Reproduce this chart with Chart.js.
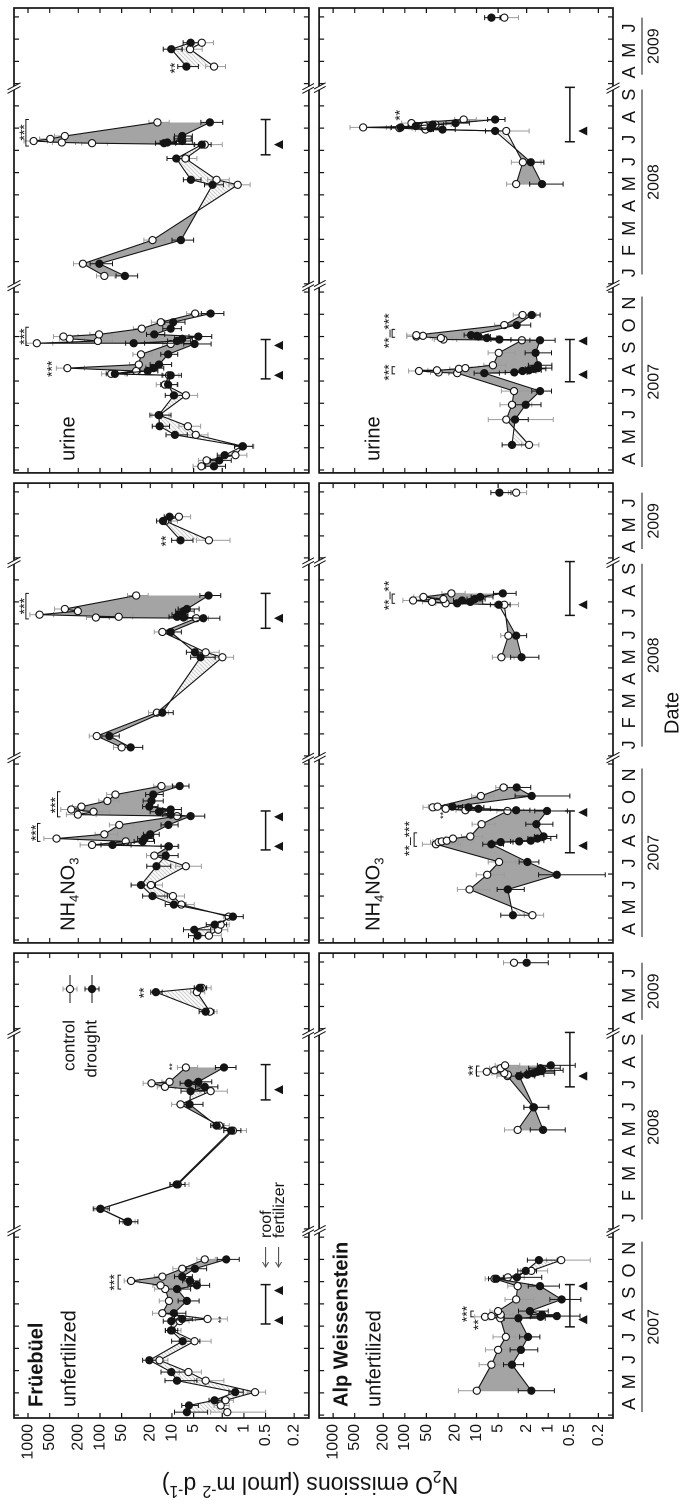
<!DOCTYPE html>
<html>
<head>
<meta charset="utf-8">
<script src="https://cdn.jsdelivr.net/npm/chart.js@4/dist/chart.umd.min.js"></script>
<style>
html, body { margin: 0; padding: 0; background: #fff; overflow: hidden; width: 683px; height: 1504px; }
#fig { position: absolute; left: 0; top: 0; width: 1504px; height: 683px; transform-origin: 0 0; transform: translate(0, 1504px) rotate(-90deg); }
#fig canvas { position: absolute; }
#ytitle { position: absolute; left: -229px; top: 295px; width: 500px; height: 30px; line-height: 30px; text-align: center;
  font: 23px 'Liberation Sans', Arial, sans-serif; color: #111; white-space: nowrap; transform: rotate(-90deg); }
#ytitle sub, #ytitle sup { font-size: 0.68em; line-height: 0; }
</style>
</head>
<body>
<div id="fig">
  <div id="ytitle">N<sub>2</sub>O emissions (µmol m<sup>-2</sup> d<sup>-1</sup>)</div>
</div>
<script>
// time axis: three year segments with breaks between them
const segYears = [2007, 2008, 2009];
const segFirstMonth = [4, 1, 4];
const segMonthLetters = [['A','M','J','J','A','S','O','N'], ['J','F','M','A','M','J','J','A','S'], ['A','M','J']];
const segStartPos = [0.13, 8.5, 17.5];
const axisMaxPos = 20.9;
const breakPos = [8.42, 17.3];
const yearLineSpans = [['2007-04-05', '2007-11-25'], ['2008-01-14', '2008-09-23'], ['2009-04-13', '2009-06-30']];

const yTickValues = [1000, 500, 200, 100, 50, 20, 10, 5, 2, 1, 0.5, 0.2];
const yTickLabels = ['1000', '500', '200', '100', '50', '20', '10', '5', '2', '1', '0.5', '0.2'];
const yMin = 0.125, yMax = 1567;

const siteNames = ['Früebüel', 'Alp Weissenstein'];
const treatmentNames = ['unfertilized', 'NH4NO3', 'urine'];
const legendLabels = ['control', 'drought'];

// roof period and fertilizer dates per site
const fruRoof = [['2007-08-04', '2007-09-27'], ['2008-06-25', '2008-08-13']];
const fruFert = ['2007-08-09', '2007-09-19', '2008-07-09'];
const alpRoof = [['2007-07-31', '2007-09-27'], ['2008-07-13', '2008-09-26']];
const alpFert = ['2007-08-10', '2007-09-25', '2008-07-28'];

// Früebüel, unfertilized
const fruUnfDates = ['2007-04-05','2007-04-14','2007-04-21','2007-05-02','2007-05-18','2007-05-30','2007-06-15','2007-07-11','2007-07-26','2007-08-08','2007-08-11','2007-08-19','2007-09-05','2007-09-21','2007-09-26','2007-10-02','2007-10-08','2007-10-19','2007-11-01',
  '2008-01-11','2008-01-29','2008-03-01','2008-05-14','2008-05-21','2008-06-19','2008-07-07','2008-07-13','2008-07-18','2008-07-20','2008-08-09',
  '2009-04-24','2009-05-21','2009-05-27'];
const fruUnfControl = [1.7, 2.1, 1.8, 0.7, 3.4, 5.9, 14.9, 4.85, 10, 7.8, 3.2, 13.6, 11, 12.4, 14.4, 37, 13.6, 7.2, 3.5, 40.5, 98, 8.3, 1.42, 2.2, 7.6, 2.9, 12.5, 19.2, 10.8, 6.4, 2.97, 4.5, 3.85];
const fruUnfDrought = [6.2, 5.8, 2.56, 1.32, 8.5, 10.2, 20.6, 7.1, 10.3, 10.2, 7.2, 9.4, 6.2, 8.5, 4.5, 5.6, 7.2, 4.8, 1.76, 41.7, 99, 8.6, 1.5, 2.4, 5.7, 5.5, 3.5, 5.9, 4.3, 1.89, 3.4, 16.7, 4.1];
const fruUnfControlSE = [1.2, 0.5, 0.4, 0.2, 1.5, 2.0, 3.5, 2.0, 2.5, 2.0, 1.5, 5.0, 4.0, 5.0, 4.0, 9.0, 4.0, 2.5, 1.0, 8, 20, 2.5, 0.5, 0.6, 2.5, 1.2, 3.5, 6, 3, 2, 0.6, 1.0, 1.0];
const fruUnfDroughtSE = [3.0, 1.5, 0.5, 0.3, 4.0, 4.0, 5.0, 3.0, 2.0, 3.0, 2.0, 3.0, 2.0, 3.0, 1.5, 1.5, 2.0, 1.5, 0.6, 12, 25, 2, 0.4, 0.5, 2, 2, 1.2, 1.8, 1.5, 0.6, 0.8, 3, 0.8];
const fruUnfStars = [['2007-09-30', 70, '***', 14], ['2007-08-10', 2.2, '**', 9], ['2008-08-10', 10.5, '**', 9], ['2009-05-20', 27, '**', 14]];
const fruUnfBrackets = [['2007-09-21', '2007-10-10', 56]];

// Früebüel, NH4NO3
const fruNH4Dates = ['2007-04-07','2007-04-15','2007-04-22','2007-05-03','2007-05-20','2007-06-01','2007-06-16','2007-07-12','2007-07-27','2007-08-09','2007-08-11','2007-08-16','2007-08-20','2007-08-26','2007-09-08','2007-09-20','2007-09-22','2007-09-26','2007-09-29','2007-10-03','2007-10-11','2007-10-20','2007-11-01',
  '2008-01-13','2008-01-29','2008-02-29','2008-05-16','2008-05-23','2008-06-20','2008-07-09','2008-07-10','2008-07-11','2008-07-14','2008-07-19','2008-07-22','2008-08-10',
  '2009-04-25','2009-05-22','2009-05-28'];
const fruNH4Control = [3.06, 2.28, 2.1, 1.63, 7.4, 9.7, 19.6, 6.4, 17.6, 11, 129, 43.9, 402, 87, 54, 8.5, 203, 123, 251, 181, 79, 61, 14, 50, 111, 16.2, 1.99, 3.4, 13.6, 4.6, 114, 55, 692, 203, 308, 31.4, 3.06, 12.4, 8.0];
const fruNH4Drought = [4.4, 4.9, 2.54, 1.42, 9.4, 18.6, 26.9, 16.4, 12.2, 11.2, 67, 25.5, 24, 20, 11.2, 5.5, 10.4, 15.1, 10.4, 20.6, 19.2, 18.2, 7.8, 37.5, 74, 13.6, 4.0, 4.8, 10.4, 3.66, 6.9, 8.5, 8.0, 6.9, 6.2, 3.1, 7.6, 13.3, 10.8];
const fruNH4ControlSE = [1.0, 0.6, 0.5, 0.3, 2.5, 3.0, 6.0, 2.5, 5.0, 3.0, 60, 15, 200, 30, 20, 3, 90, 50, 100, 60, 25, 20, 4, 15, 30, 5, 0.6, 1.2, 4, 1.5, 40, 20, 250, 80, 120, 10, 1.5, 4, 2.5];
const fruNH4DroughtSE = [1.5, 2.0, 0.8, 0.4, 3.0, 7.0, 10, 6.0, 4.0, 3.0, 30, 8, 6, 5, 3, 2.0, 3, 5, 3, 5, 6, 5, 2, 12, 20, 4, 1.5, 1.5, 3, 1.5, 2, 2.5, 2, 2, 2, 1, 2.5, 3, 2];
const fruNH4Stars = [['2007-08-28', 860, '***', 14], ['2007-10-05', 460, '***', 14], ['2008-07-26', 1250, '***', 14], ['2009-04-24', 13.5, '**', 14]];
const fruNH4Brackets = [['2007-08-16', '2007-09-10', 740], ['2007-09-19', '2007-10-24', 390], ['2008-07-08', '2008-08-13', 1070]];

// Früebüel, urine
const fruUriDates = ['2007-04-06','2007-04-14','2007-04-21','2007-05-03','2007-05-19','2007-05-31','2007-06-15','2007-07-12','2007-07-27','2007-08-09','2007-08-11','2007-08-15','2007-08-19','2007-08-24','2007-09-07','2007-09-21','2007-09-22','2007-09-25','2007-09-28','2007-10-01','2007-10-04','2007-10-12','2007-10-21','2007-11-02',
  '2008-01-12','2008-01-29','2008-02-29','2008-05-15','2008-05-22','2008-06-20','2008-07-09','2008-07-11','2008-07-12','2008-07-14','2008-07-17','2008-07-21','2008-08-09',
  '2009-04-24','2009-05-18','2009-05-27'];
const fruUriControl = [3.9, 3.3, 1.31, 1.03, 4.66, 6.0, 15, 6.4, 12.5, 11, 70, 31.4, 284, 28.9, 26.9, 10.4, 754, 107, 264, 322, 103, 26.3, 14.3, 4.76, 87, 173, 18.6, 1.22, 2.4, 6.5, 3.5, 129, 339, 836, 490, 308, 15.9, 2.6, 5.6, 3.85];
const fruUriDrought = [2.6, 2.2, 1.85, 1.05, 9.1, 14.8, 15.3, 9.4, 11.3, 10.4, 62, 21.7, 18, 15.1, 11.3, 4.85, 34, 8.5, 7.2, 4.3, 17.6, 10.4, 9.6, 2.9, 45, 102, 7.5, 2.73, 5.45, 8.7, 3.85, 12.9, 11.6, 7.2, 7.4, 7.2, 2.97, 6.3, 10.2, 5.5];
const fruUriControlSE = [1.2, 1.0, 0.4, 0.3, 1.5, 2.0, 4.0, 2.0, 4.0, 3.0, 25, 10, 120, 10, 8, 3, 300, 40, 100, 120, 35, 8, 5, 1.5, 25, 60, 6, 0.4, 0.8, 2, 1.5, 50, 120, 300, 200, 120, 5, 0.8, 1.8, 1.2];
const fruUriDroughtSE = [0.8, 0.7, 0.5, 0.3, 3.0, 4.0, 5.0, 3.0, 3.0, 3.0, 20, 6, 5, 5, 3, 2, 10, 3, 2, 1.5, 5, 3, 3, 1, 15, 35, 2.5, 0.8, 1.5, 3, 1, 4, 3, 2, 2, 2, 1, 2, 3, 1.5];
const fruUriStars = [['2007-10-01', 1250, '***', 14], ['2007-08-18', 520, '***', 14], ['2008-07-26', 1250, '***', 14], ['2009-04-22', 10, '**', 14]];
const fruUriBrackets = [['2007-09-19', '2007-10-14', 1070], ['2008-07-07', '2008-08-13', 1070]];

// Alp Weissenstein, unfertilized
const alpUnfDates = ['2007-05-04','2007-06-09','2007-06-29','2007-07-17','2007-08-12','2007-08-14','2007-08-15','2007-08-17','2007-08-22','2007-09-07','2007-09-25','2007-10-05','2007-10-07','2007-10-16','2007-10-31',
  '2008-05-15','2008-06-15','2008-07-28','2008-07-30','2008-08-01','2008-08-03','2008-08-05','2008-08-08','2008-08-12',
  '2009-06-30'];
const alpUnfControl = [9.9, 6.2, 5.0, 3.9, 4.66, 7.6, 6.2, 4.6, 5.0, 2.8, 2.67, 5.6, 3.66, 1.72, 0.66, 2.67, 1.61, 3.7, 3.66, 4.1, 7.2, 5.6, 4.6, 4.0, 3.0];
const alpUnfDrought = [1.72, 3.2, 2.4, 1.91, 2.6, 1.28, 0.76, 1.22, 1.8, 0.65, 1.3, 5.3, 2.73, 2.06, 1.35, 1.18, 1.58, 2.54, 1.95, 1.61, 1.42, 1.22, 1.28, 0.92, 2.0];
const alpUnfControlSE = [8, 3, 2.5, 2, 2, 3, 2, 1.5, 1.5, 1.2, 1, 2, 1.5, 0.7, 0.4, 1.4, 0.6, 1.5, 1.5, 2, 3, 2, 2, 1.5, 1.2];
const alpUnfDroughtSE = [0.9, 1, 1, 0.6, 1.5, 0.5, 0.4, 0.5, 0.8, 0.3, 0.6, 1.5, 1.5, 0.6, 0.6, 0.6, 0.6, 1, 0.8, 0.8, 0.6, 0.6, 0.6, 0.5, 1.0];
const alpUnfStars = [['2007-08-18', 15, '***', 14], ['2007-08-03', 10.5, '**', 14], ['2008-08-05', 12.4, '**', 14]];
const alpUnfBrackets = [['2007-08-14', '2007-08-22', 12], ['2008-07-28', '2008-08-11', 10]];

// Alp Weissenstein, NH4NO3
const alpNH4Dates = ['2007-05-05','2007-06-10','2007-06-30','2007-07-18','2007-08-12','2007-08-15','2007-08-16','2007-08-17','2007-08-20','2007-08-23','2007-09-09','2007-09-27','2007-09-28','2007-09-30','2007-10-02','2007-10-03','2007-10-18','2007-10-30',
  '2008-05-16','2008-06-15','2008-07-28','2008-07-30','2008-08-01','2008-08-03','2008-08-05','2008-08-08','2008-08-13',
  '2009-06-30'];
const alpNH4Control = [1.66, 12.5, 7.1, 4.85, 36.8, 33.8, 30.5, 26, 21.3, 12.2, 8.5, 3.7, 14.3, 26.9, 40.8, 34.9, 8.7, 4.2, 4.5, 3.6, 4.1, 26.9, 41.7, 76.6, 28.9, 55, 22.4, 2.8];
const alpNH4Drought = [3.1, 3.66, 0.76, 1.95, 6.2, 4.6, 2.54, 1.75, 1.42, 1.16, 1.46, 1.04, 2.8, 9.4, 12.9, 21.7, 1.7, 2.75, 2.35, 2.8, 4.9, 18.6, 12.2, 15.9, 10.6, 8.9, 4.3, 4.8];
const alpNH4ControlSE = [0.5, 6, 3, 2, 20, 10, 10, 8, 6, 4, 3, 1.5, 5, 10, 15, 12, 3, 1.2, 1.5, 1.0, 1.5, 10, 15, 30, 10, 20, 8, 0.8];
const alpNH4DroughtSE = [1.5, 1.5, 0.6, 0.6, 2, 1.5, 0.8, 0.6, 0.5, 0.4, 0.6, 0.5, 1, 3, 5, 6, 1.2, 1, 1.0, 0.8, 1.5, 6, 4, 5, 3, 3, 1.5, 1.5];
const alpNH4Stars = [['2007-08-20', 96, '**–***', 14], ['2007-09-21', 31, '**', 9], ['2008-08-10', 186, '**–**', 14]];
const alpNH4Brackets = [['2007-08-09', '2007-08-28', 74], ['2008-07-30', '2008-08-12', 150]];

// Alp Weissenstein, urine
const alpUriDates = ['2007-05-05','2007-06-09','2007-06-29','2007-07-18','2007-08-12','2007-08-13','2007-08-15','2007-08-16','2007-08-18','2007-08-19','2007-08-23','2007-09-09','2007-09-26','2007-09-27','2007-09-29','2007-10-01','2007-10-02','2007-10-03','2007-10-17','2007-10-31',
  '2008-05-16','2008-06-15','2008-07-28','2008-07-30','2008-08-01','2008-08-02','2008-08-04','2008-08-06','2008-08-08','2008-08-13',
  '2009-06-30'];
const alpUriControl = [1.85, 3.85, 3.2, 3.0, 18.6, 33.8, 63.4, 35.6, 17.6, 14.3, 5.9, 4.9, 2.33, 28.9, 31.4, 69, 55.8, 69, 4.1, 2.28, 2.8, 2.26, 3.85, 51.4, 119, 381, 53, 37.5, 80.7, 15.1, 4.1];
const alpUriDrought = [3.2, 2.9, 2.06, 1.3, 7.8, 2.97, 2.28, 1.85, 1.58, 1.39, 1.39, 1.5, 1.3, 4.8, 7.2, 9.4, 9.9, 11.9, 2.75, 1.7, 1.22, 1.75, 5.5, 29.8, 43.9, 114, 70, 40.8, 19.6, 5.5, 6.2];
const alpUriControlSE = [0.5, 3, 1.5, 1.5, 6, 10, 25, 12, 6, 5, 2, 2, 1, 10, 10, 25, 20, 25, 1.5, 0.8, 1.0, 1.0, 2, 20, 40, 200, 20, 15, 30, 5, 1.5];
const alpUriDroughtSE = [1.2, 1, 0.8, 0.4, 3, 1, 0.8, 0.6, 0.5, 0.5, 0.5, 0.6, 0.5, 1.5, 2, 3, 3, 3, 1, 0.4, 0.6, 0.6, 2, 10, 15, 40, 20, 12, 7, 1.5, 1.5];
const alpUriStars = [['2007-08-13', 186, '***', 14], ['2007-10-09', 186, '**–***', 14], ['2008-08-19', 130, '**', 14]];
const alpUriBrackets = [['2007-08-11', '2007-08-21', 150], ['2007-09-30', '2007-10-11', 150]];

const panels = [
  {row: 0, col: 0, dates: fruUnfDates, control: fruUnfControl, drought: fruUnfDrought, cSE: fruUnfControlSE, dSE: fruUnfDroughtSE, stars: fruUnfStars, brackets: fruUnfBrackets, roof: fruRoof, fert: fruFert},
  {row: 0, col: 1, dates: fruNH4Dates, control: fruNH4Control, drought: fruNH4Drought, cSE: fruNH4ControlSE, dSE: fruNH4DroughtSE, stars: fruNH4Stars, brackets: fruNH4Brackets, roof: fruRoof, fert: fruFert},
  {row: 0, col: 2, dates: fruUriDates, control: fruUriControl, drought: fruUriDrought, cSE: fruUriControlSE, dSE: fruUriDroughtSE, stars: fruUriStars, brackets: fruUriBrackets, roof: fruRoof, fert: fruFert},
  {row: 1, col: 0, dates: alpUnfDates, control: alpUnfControl, drought: alpUnfDrought, cSE: alpUnfControlSE, dSE: alpUnfDroughtSE, stars: alpUnfStars, brackets: alpUnfBrackets, roof: alpRoof, fert: alpFert},
  {row: 1, col: 1, dates: alpNH4Dates, control: alpNH4Control, drought: alpNH4Drought, cSE: alpNH4ControlSE, dSE: alpNH4DroughtSE, stars: alpNH4Stars, brackets: alpNH4Brackets, roof: alpRoof, fert: alpFert},
  {row: 1, col: 2, dates: alpUriDates, control: alpUriControl, drought: alpUriDrought, cSE: alpUriControlSE, dSE: alpUriDroughtSE, stars: alpUriStars, brackets: alpUriBrackets, roof: alpRoof, fert: alpFert}
];

const FONT = "'Liberation Sans', Arial, sans-serif";
const INK = '#141414';
const GRAY_FILL = '#a4a4a4';

// figure is laid out unrotated (1504 x 683) and turned by CSS
const colLeft = [0, 556, 1026], colWidth = [556, 470, 478];
const rowTop = [0, 314], rowHeight = [314, 369];

function dateToPos(s) {
  const [yr, mo, dy] = s.split('-').map(Number);
  const i = segYears.indexOf(yr);
  const dim = new Date(yr, mo, 0).getDate();
  return segStartPos[i] + (mo - segFirstMonth[i]) + (dy - 1) / dim;
}

function buildPoints(dates, vals, se) {
  const pts = [];
  dates.forEach((d, i) => {
    if (i > 0 && d.slice(0, 4) !== dates[i - 1].slice(0, 4)) {
      pts.push({x: (dateToPos(dates[i - 1]) + dateToPos(d)) / 2, y: null, se: 0});
    }
    pts.push({x: dateToPos(d), y: vals[i], se: se[i]});
  });
  return pts;
}

function makeHatch() {
  const c = document.createElement('canvas');
  c.width = 4; c.height = 4;
  const g = c.getContext('2d');
  g.fillStyle = '#fff'; g.fillRect(0, 0, 4, 4);
  g.strokeStyle = '#8e8e8e'; g.lineWidth = 0.7;
  g.beginPath();
  g.moveTo(0, 4); g.lineTo(4, 0);
  g.moveTo(-1, 1); g.lineTo(1, -1);
  g.moveTo(3, 5); g.lineTo(5, 3);
  g.stroke();
  return g.createPattern(c, 'repeat');
}
const hatch = makeHatch();

function monthEdges() {
  const out = [];
  segMonthLetters.forEach((letters, i) => {
    for (let k = 0; k <= letters.length; k++) out.push(segStartPos[i] + k);
  });
  return out;
}

function drawErrorBars(chart) {
  const {ctx, chartArea: a, scales: {x, y}} = chart;
  ctx.save();
  ctx.beginPath(); ctx.rect(a.left, a.top, a.right - a.left, a.bottom - a.top); ctx.clip();
  chart.data.datasets.forEach(ds => {
    ctx.strokeStyle = ds.errColor; ctx.lineWidth = 1;
    ds.data.forEach(p => {
      if (p.y == null) return;
      const px = x.getPixelForValue(p.x);
      const low = Math.max(p.y - p.se, yMin);
      const hi = y.getPixelForValue(p.y + p.se), lo = y.getPixelForValue(low);
      ctx.beginPath();
      ctx.moveTo(px, hi); ctx.lineTo(px, lo);
      ctx.moveTo(px - 2.5, hi); ctx.lineTo(px + 2.5, hi);
      if (low > yMin) { ctx.moveTo(px - 2.5, lo); ctx.lineTo(px + 2.5, lo); }
      ctx.stroke();
    });
  });
  ctx.restore();
}

function drawBreak(ctx, px, py) {
  const o = 1.8, dx = 3.5, dy = 6.5;
  ctx.fillStyle = '#fff';
  ctx.beginPath();
  ctx.moveTo(px - o - dx, py - dy); ctx.lineTo(px + o - dx, py - dy);
  ctx.lineTo(px + o + dx, py + dy); ctx.lineTo(px - o + dx, py + dy);
  ctx.closePath(); ctx.fill();
  ctx.strokeStyle = INK; ctx.lineWidth = 1;
  ctx.beginPath();
  ctx.moveTo(px - o - dx, py - dy); ctx.lineTo(px - o + dx, py + dy);
  ctx.moveTo(px + o - dx, py - dy); ctx.lineTo(px + o + dx, py + dy);
  ctx.stroke();
}

function drawChem(ctx, text, x0, y0) {
  let xx = x0;
  text.match(/[A-Za-z]+|\d+/g).forEach(part => {
    const sub = /\d/.test(part);
    ctx.font = (sub ? '13px ' : '20px ') + FONT;
    ctx.fillText(part, xx, y0 + (sub ? 6 : 0));
    xx += ctx.measureText(part).width;
  });
}

function drawMarker(ctx, px, py, filled) {
  ctx.beginPath(); ctx.arc(px, py, 3.6, 0, Math.PI * 2);
  ctx.fillStyle = filled ? INK : '#fff'; ctx.fill();
  ctx.strokeStyle = INK; ctx.lineWidth = 1.1; ctx.stroke();
}

function decorPlugin(p) {
  return {
    id: 'decor',
    beforeDatasetsDraw(chart) { drawErrorBars(chart); },
    afterDatasetsDraw(chart) {
      const {ctx, chartArea: a, scales: {x, y}} = chart;
      ctx.save();
      ctx.strokeStyle = INK; ctx.fillStyle = INK;

      // inward ticks on all four sides
      ctx.lineWidth = 1.2;
      ctx.beginPath();
      yTickValues.forEach(v => {
        const py = y.getPixelForValue(v);
        ctx.moveTo(a.left, py); ctx.lineTo(a.left + 5, py);
        ctx.moveTo(a.right, py); ctx.lineTo(a.right - 5, py);
      });
      monthEdges().forEach(pos => {
        const px = x.getPixelForValue(pos);
        ctx.moveTo(px, a.top); ctx.lineTo(px, a.top + 5);
        ctx.moveTo(px, a.bottom); ctx.lineTo(px, a.bottom - 5);
      });
      ctx.stroke();
      ctx.lineWidth = 1.7;
      ctx.strokeRect(a.left, a.top, a.right - a.left, a.bottom - a.top);
      breakPos.forEach(pos => {
        const px = x.getPixelForValue(pos);
        drawBreak(ctx, px, a.top); drawBreak(ctx, px, a.bottom);
      });

      // roof period and fertilizer application
      ctx.strokeStyle = INK; ctx.fillStyle = INK; ctx.lineWidth = 1.5;
      const roofY = y.getPixelForValue(0.5), fertY = y.getPixelForValue(0.33);
      p.roof.forEach(([s, e]) => {
        const x1 = x.getPixelForValue(dateToPos(s)), x2 = x.getPixelForValue(dateToPos(e));
        ctx.beginPath();
        ctx.moveTo(x1, roofY); ctx.lineTo(x2, roofY);
        ctx.moveTo(x1, roofY - 5); ctx.lineTo(x1, roofY + 5);
        ctx.moveTo(x2, roofY - 5); ctx.lineTo(x2, roofY + 5);
        ctx.stroke();
      });
      p.fert.forEach(d => {
        const px = x.getPixelForValue(dateToPos(d));
        ctx.beginPath();
        ctx.moveTo(px, fertY - 4.5); ctx.lineTo(px - 4.5, fertY + 4.5); ctx.lineTo(px + 4.5, fertY + 4.5);
        ctx.closePath(); ctx.fill();
      });

      // significance stars and brackets
      ctx.textAlign = 'center'; ctx.textBaseline = 'middle';
      p.stars.forEach(([d, v, t, fs]) => {
        ctx.font = fs + 'px ' + FONT;
        ctx.fillText(t, x.getPixelForValue(dateToPos(d)), y.getPixelForValue(v) + fs * 0.28);
      });
      ctx.lineWidth = 1;
      p.brackets.forEach(([s, e, v]) => {
        const x1 = x.getPixelForValue(dateToPos(s)), x2 = x.getPixelForValue(dateToPos(e)), py = y.getPixelForValue(v);
        ctx.beginPath();
        ctx.moveTo(x1, py + 3); ctx.lineTo(x1, py); ctx.lineTo(x2, py); ctx.lineTo(x2, py + 3);
        ctx.stroke();
      });

      // panel labels
      ctx.textAlign = 'left'; ctx.textBaseline = 'middle';
      if (p.col === 0) {
        ctx.font = 'bold 20px ' + FONT;
        ctx.fillText(siteNames[p.row], a.left + 11, a.top + 23);
        ctx.font = '20px ' + FONT;
        ctx.fillText(treatmentNames[0], a.left + 11, a.top + 56);
      } else {
        drawChem(ctx, treatmentNames[p.col], a.left + 12, a.top + 55);
      }

      // legends (first panel only)
      if (p.row === 0 && p.col === 0) {
        legendLabels.forEach((name, i) => {
          const ly = a.top + 56 + i * 22;
          ctx.font = '17px ' + FONT; ctx.textAlign = 'right'; ctx.fillStyle = INK;
          ctx.fillText(name, a.left + 398, ly);
          const mx = a.left + 429;
          ctx.strokeStyle = INK; ctx.lineWidth = 1.1;
          ctx.beginPath(); ctx.moveTo(a.left + 415, ly); ctx.lineTo(a.left + 443, ly); ctx.stroke();
          ctx.strokeStyle = i === 0 ? '#9b9b9b' : INK; ctx.lineWidth = 1;
          ctx.beginPath();
          ctx.moveTo(mx, ly - 7); ctx.lineTo(mx, ly + 7);
          ctx.moveTo(mx - 2.5, ly - 7); ctx.lineTo(mx + 2.5, ly - 7);
          ctx.moveTo(mx - 2.5, ly + 7); ctx.lineTo(mx + 2.5, ly + 7);
          ctx.stroke();
          drawMarker(ctx, mx, ly, i === 1);
        });
        [['roof', roofY], ['fertilizer', fertY]].forEach(([name, ly]) => {
          ctx.strokeStyle = '#555'; ctx.lineWidth = 1.1;
          ctx.beginPath();
          ctx.moveTo(a.left + 171, ly); ctx.lineTo(a.left + 151, ly);
          ctx.moveTo(a.left + 156, ly - 3); ctx.lineTo(a.left + 151, ly); ctx.lineTo(a.left + 156, ly + 3);
          ctx.stroke();
          ctx.font = '16px ' + FONT; ctx.textAlign = 'left'; ctx.fillStyle = INK;
          ctx.fillText(name, a.left + 180, ly + 1);
        });
      }

      // y tick labels on the left column
      ctx.fillStyle = INK;
      if (p.col === 0) {
        ctx.font = '16px ' + FONT; ctx.textAlign = 'right'; ctx.textBaseline = 'middle';
        yTickValues.forEach((v, i) => ctx.fillText(yTickLabels[i], a.left - 6, y.getPixelForValue(v)));
      }
      // month letters, year lines and labels on the bottom row
      if (p.row === 1) {
        ctx.textAlign = 'center'; ctx.textBaseline = 'middle';
        ctx.font = '18px ' + FONT;
        segMonthLetters.forEach((letters, i) => {
          letters.forEach((l, k) => ctx.fillText(l, x.getPixelForValue(segStartPos[i] + k + 0.5), a.bottom + 17));
        });
        ctx.lineWidth = 1; ctx.strokeStyle = INK;
        ctx.font = '16px ' + FONT;
        yearLineSpans.forEach(([s, e], i) => {
          const x1 = x.getPixelForValue(dateToPos(s)), x2 = x.getPixelForValue(dateToPos(e));
          ctx.beginPath(); ctx.moveTo(x1, a.bottom + 29); ctx.lineTo(x2, a.bottom + 29); ctx.stroke();
          ctx.fillText(String(segYears[i]), (x1 + x2) / 2, a.bottom + 41);
        });
        if (p.col === 1) {
          ctx.font = '20px ' + FONT;
          ctx.fillText('Date', (a.left + a.right) / 2, a.bottom + 60);
        }
      }
      ctx.restore();
    }
  };
}

const fig = document.getElementById('fig');
panels.forEach(p => {
  const w = colWidth[p.col], h = rowHeight[p.row];
  const canvas = document.createElement('canvas');
  canvas.width = w; canvas.height = h;
  canvas.style.left = colLeft[p.col] + 'px'; canvas.style.top = rowTop[p.row] + 'px';
  canvas.style.width = w + 'px'; canvas.style.height = h + 'px';
  fig.insertBefore(canvas, document.getElementById('ytitle'));

  new Chart(canvas, {
    type: 'line',
    data: {
      datasets: [
        {
          label: legendLabels[0],
          data: buildPoints(p.dates, p.control, p.cSE),
          order: 1,
          borderColor: INK, borderWidth: 1.1,
          pointRadius: 3.6, pointBackgroundColor: '#fff', pointBorderColor: INK, pointBorderWidth: 1.1,
          fill: {target: 1, above: GRAY_FILL, below: hatch},
          errColor: '#9b9b9b'
        },
        {
          label: legendLabels[1],
          data: buildPoints(p.dates, p.drought, p.dSE),
          order: 0,
          borderColor: INK, borderWidth: 1.1,
          pointRadius: 3.6, pointBackgroundColor: INK, pointBorderColor: INK, pointBorderWidth: 1.1,
          fill: false,
          errColor: INK
        }
      ]
    },
    options: {
      responsive: false,
      animation: false,
      devicePixelRatio: 2,
      layout: {padding: {left: p.col === 0 ? 86 : 0, right: p.col === 2 ? 8 : 0, top: p.row === 0 ? 14 : 0, bottom: p.row === 1 ? 70 : 0}},
      scales: {
        x: {type: 'linear', min: 0, max: axisMaxPos, display: false},
        y: {type: 'logarithmic', min: yMin, max: yMax, display: false}
      },
      elements: {line: {tension: 0}},
      plugins: {
        legend: {display: false},
        tooltip: {enabled: false},
        filler: {propagate: false, drawTime: 'beforeDatasetsDraw'}
      }
    },
    plugins: [decorPlugin(p)]
  });
});
</script>
</body>
</html>
